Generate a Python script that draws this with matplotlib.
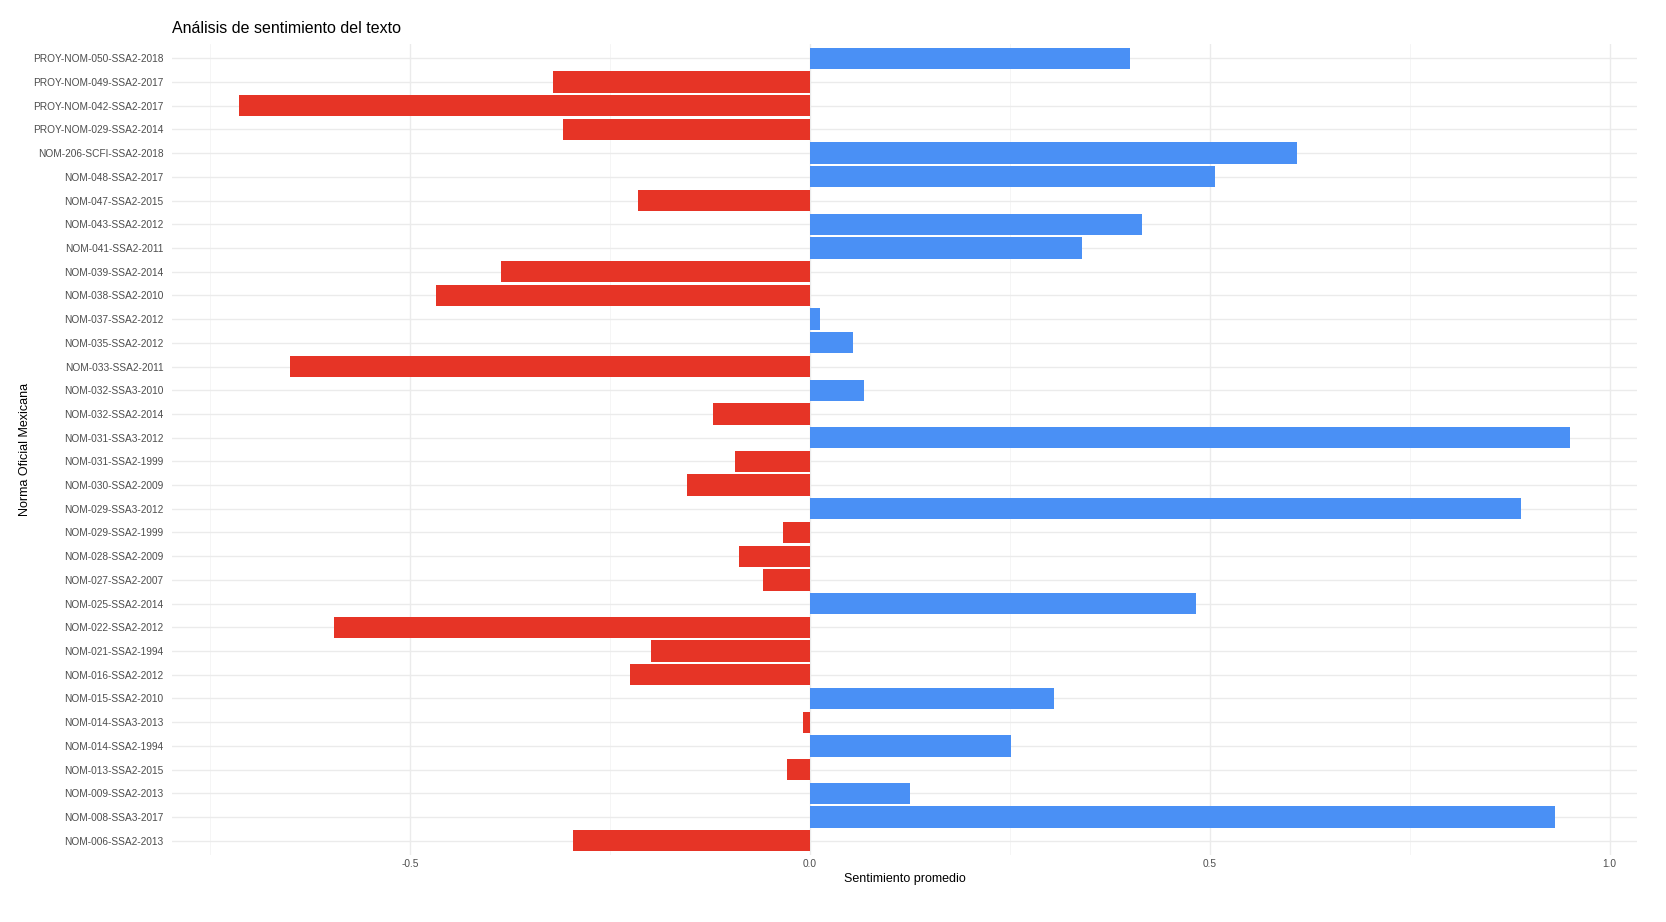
import numpy as np
import matplotlib
matplotlib.use("Agg")
import matplotlib.pyplot as plt
from matplotlib.ticker import FixedLocator

plt.rcParams['font.family'] = ['Liberation Sans', 'DejaVu Sans']

normas = [
    "PROY-NOM-050-SSA2-2018", "PROY-NOM-049-SSA2-2017", "PROY-NOM-042-SSA2-2017",
    "PROY-NOM-029-SSA2-2014", "NOM-206-SCFI-SSA2-2018", "NOM-048-SSA2-2017",
    "NOM-047-SSA2-2015", "NOM-043-SSA2-2012", "NOM-041-SSA2-2011",
    "NOM-039-SSA2-2014", "NOM-038-SSA2-2010", "NOM-037-SSA2-2012",
    "NOM-035-SSA2-2012", "NOM-033-SSA2-2011", "NOM-032-SSA3-2010",
    "NOM-032-SSA2-2014", "NOM-031-SSA3-2012", "NOM-031-SSA2-1999",
    "NOM-030-SSA2-2009", "NOM-029-SSA3-2012", "NOM-029-SSA2-1999",
    "NOM-028-SSA2-2009", "NOM-027-SSA2-2007", "NOM-025-SSA2-2014",
    "NOM-022-SSA2-2012", "NOM-021-SSA2-1994", "NOM-016-SSA2-2012",
    "NOM-015-SSA2-2010", "NOM-014-SSA3-2013", "NOM-014-SSA2-1994",
    "NOM-013-SSA2-2015", "NOM-009-SSA2-2013", "NOM-008-SSA3-2017",
    "NOM-006-SSA2-2013",
]
sentimiento = [
    0.400, -0.321, -0.714,
    -0.309, 0.609, 0.507,
    -0.215, 0.415, 0.340,
    -0.386, -0.467, 0.013,
    0.054, -0.650, 0.068,
    -0.121, 0.951, -0.094,
    -0.154, 0.889, -0.033,
    -0.088, -0.059, 0.483,
    -0.595, -0.199, -0.225,
    0.306, -0.009, 0.252,
    -0.028, 0.125, 0.932,
    -0.296,
]
x_ticks = [-0.5, 0.0, 0.5, 1.0]
x_ticklabels = ["-0.5", "0.0", "0.5", "1.0"]

ROJO = "#E63426"
AZUL = "#4A90F5"

W, H = 1666, 922
fig = plt.figure(figsize=(W / 100, H / 100), dpi=100)
ax = fig.add_axes([172 / W, 1 - 855 / H, (1637 - 172) / W, (855 - 44) / H])

n = len(normas)
ypos = np.arange(n)[::-1]
vals = np.array(sentimiento)
colors = [ROJO if v < 0 else AZUL for v in vals]
ax.barh(ypos, vals, height=0.9, color=colors, zorder=3)

vmin, vmax = vals.min(), vals.max()
rng = vmax - vmin
ax.set_xlim(vmin - 0.05 * rng, vmax + 0.05 * rng)
ax.set_ylim(-0.6, n - 1 + 0.6)

ax.set_yticks(ypos)
ax.set_yticklabels(normas)
ax.xaxis.set_major_locator(FixedLocator(x_ticks))
ax.set_xticklabels(x_ticklabels)
ax.xaxis.set_minor_locator(FixedLocator([-0.75, -0.25, 0.25, 0.75]))

for s in ax.spines.values():
    s.set_visible(False)
ax.tick_params(axis='both', which='both', length=0)
ax.tick_params(axis='y', labelsize=7.3, labelcolor='#4D4D4D', pad=6)
ax.tick_params(axis='x', labelsize=7.3, labelcolor='#4D4D4D', pad=3)

ax.grid(True, which='major', axis='both', color='#EBEBEB', linewidth=1.0, zorder=0)
ax.grid(True, which='minor', axis='x', color='#F4F4F4', linewidth=0.6, zorder=0)
ax.set_axisbelow(True)

ax.set_xlabel("Sentimiento promedio", fontsize=9, color='black', labelpad=3)
fig.text(25 / W, 1 - 449 / H, "Norma Oficial Mexicana", rotation=90,
         fontsize=9, color='black', ha='center', va='center')
ax.set_title("Análisis de sentimiento del texto", loc='left', fontsize=11.5,
             color='black', pad=8)

fig.savefig("out.png", dpi=100, facecolor='white')
